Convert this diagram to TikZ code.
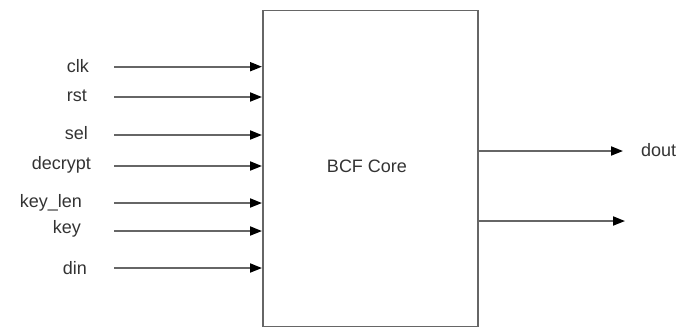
\documentclass[tikz,border=0pt]{standalone}
\usepackage{fontspec}
\setmainfont{Liberation Sans}
\usetikzlibrary{arrows.meta}
\definecolor{linegray}{HTML}{666666}
\definecolor{txtgray}{HTML}{333333}
\begin{document}
\begin{tikzpicture}[x=1pt,y=-1pt,
  lbl/.style={font=\fontsize{18}{20}\selectfont, text=txtgray, inner sep=0pt, anchor=center},
  sig/.style={draw=linegray, line width=1.8pt, -{Triangle[length=12pt,width=9pt,fill=black,color=black]}},
  corebox/.style={draw=linegray, line width=1.8pt, fill=white}]
\useasboundingbox (0,0) rectangle (698,327);
\node[corebox, minimum width=215pt, minimum height=316pt, anchor=north west, inner sep=0pt] (core) at (262,9.5) {};
\node[lbl] (coretxt) at (367,166) {BCF Core};
% inputs
\coordinate (s1) at (114,66.7);
\coordinate (s2) at (114,97);
\coordinate (s3) at (114,135);
\coordinate (s4) at (114,166);
\coordinate (s5) at (114,203);
\coordinate (s6) at (114,231);
\coordinate (s7) at (114,268);
\foreach \i in {1,...,7}{\draw[sig] (s\i) -- (s\i -| core.west);}
\node[lbl, anchor=east] (clk) at (89,66) {clk};
\node[lbl, anchor=east] (rst) at (87,96) {rst};
\node[lbl, anchor=east] (sel) at (88,133) {sel};
\node[lbl, anchor=east] (decrypt) at (91,165) {decrypt};
\node[lbl, anchor=east] (keylen) at (82,203) {key\_len};
\node[lbl, anchor=east] (key) at (81,229) {key};
\node[lbl, anchor=east] (din) at (87,268) {din};
% outputs
\coordinate (o1) at (623,151);
\coordinate (o2) at (625,221);
\draw[sig] (core.east |- o1) -- (o1);
\draw[sig] (core.east |- o2) -- (o2);
\node[lbl, anchor=west] (dout) at (641,150) {dout};
\end{tikzpicture}
\end{document}
